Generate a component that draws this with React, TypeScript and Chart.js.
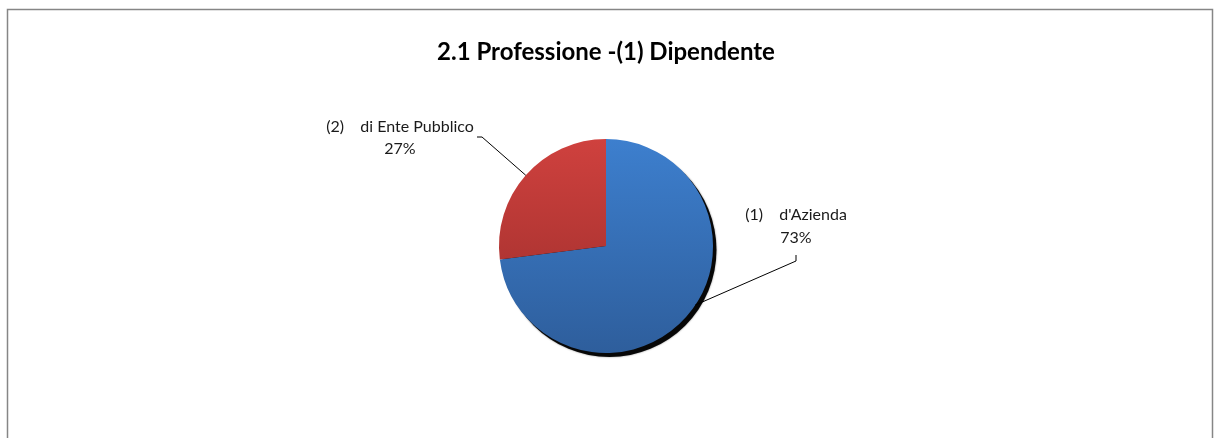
import React, { useEffect, useRef } from "react";
import { Chart, registerables } from "chart.js";

Chart.register(...registerables);

const titleText = "2.1 Professione -(1) Dipendente";
const categories = ["(1)    d'Azienda", "(2)    di Ente Pubblico"];
const values = [73, 27];
const gradTop = ["#3d7fce", "#cf413e"];
const gradBottom = ["#2e5e9c", "#992c2a"];

// label layout relative to pie centre (styles/positions, not data)
const labelLayout = [
  { dx: 190, base1: -26, base2: -3, anchorFrac: 0.47, elbow: [190, 9], elbowDown: [190, 15] },
  { dx: -206, base1: -114, base2: -92, anchorFrac: 0.5, elbow: [-129, -109], elbowDown: [-124, -109] },
];

const FONT = "Lato, 'Open Sans', sans-serif";

const decorPlugin = {
  id: "decor",
  beforeDraw(chart: any) {
    const ctx = chart.ctx;
    ctx.save();
    ctx.fillStyle = "#ffffff";
    ctx.fillRect(0, 0, chart.width, chart.height);
    ctx.strokeStyle = "#868686";
    ctx.lineWidth = 1.5;
    ctx.strokeRect(7.5, 9.5, 1205, 460);
    ctx.restore();
  },
  beforeDatasetsDraw(chart: any) {
    const meta = chart.getDatasetMeta(0);
    const arc = meta.data[0];
    if (!arc) return;
    const { x, y, outerRadius } = arc.getProps(["x", "y", "outerRadius"], true);
    const ctx = chart.ctx;
    ctx.save();
    ctx.fillStyle = "rgba(0,0,0,0.95)";
    ctx.shadowColor = "rgba(0,0,0,0.5)";
    ctx.shadowBlur = 2;
    ctx.beginPath();
    ctx.arc(x + 3.5, y + 4, outerRadius, 0, Math.PI * 2);
    ctx.fill();
    ctx.restore();
  },
  afterDatasetsDraw(chart: any) {
    const meta = chart.getDatasetMeta(0);
    const ctx = chart.ctx;
    const total = values.reduce((a, b) => a + b, 0);
    ctx.save();
    meta.data.forEach((arc: any, i: number) => {
      const { x, y, outerRadius, startAngle, endAngle } = arc.getProps(
        ["x", "y", "outerRadius", "startAngle", "endAngle"],
        true
      );
      const L = labelLayout[i];
      const a = startAngle + (endAngle - startAngle) * L.anchorFrac;
      const ax = x + Math.cos(a) * outerRadius;
      const ay = y + Math.sin(a) * outerRadius;
      ctx.strokeStyle = "#000000";
      ctx.lineWidth = 1;
      ctx.beginPath();
      ctx.moveTo(x + L.elbow[0], y + L.elbow[1]);
      ctx.lineTo(x + L.elbowDown[0], y + L.elbowDown[1]);
      ctx.lineTo(ax, ay);
      ctx.stroke();

      ctx.fillStyle = "#1a1a1a";
      ctx.font = `16px ${FONT}`;
      ctx.textAlign = "center";
      ctx.textBaseline = "alphabetic";
      ctx.fillText(categories[i], x + L.dx, y + L.base1);
      const pct = Math.round((values[i] / total) * 100) + "%";
      ctx.fillText(pct, x + L.dx, y + L.base2);
    });
    ctx.restore();
  },
};

export default function App() {
  const ref = useRef<HTMLCanvasElement>(null);
  useEffect(() => {
    document.body.style.margin = "0";
    const canvas = ref.current!;
    const chart = new Chart(canvas, {
      type: "pie",
      data: {
        labels: categories,
        datasets: [
          {
            data: values,
            borderWidth: 0,
            backgroundColor: (c: any) => {
              const ch = c.chart;
              const area = ch.chartArea;
              if (!area) return gradTop[c.dataIndex];
              const g = ch.ctx.createLinearGradient(0, area.top, 0, area.bottom);
              g.addColorStop(0, gradTop[c.dataIndex]);
              g.addColorStop(1, gradBottom[c.dataIndex]);
              return g;
            },
          },
        ],
      },
      options: {
        responsive: false,
        animation: false,
        layout: { padding: { left: 0, right: 3, top: 0, bottom: 85 } },
        plugins: {
          legend: { display: false },
          tooltip: { enabled: false },
          title: {
            display: true,
            text: titleText,
            color: "#000000",
            font: { family: FONT, size: 24, weight: "bold" },
            padding: { top: 37.6, bottom: 72.6 },
          },
        },
      },
      plugins: [decorPlugin],
    });
    return () => chart.destroy();
  }, []);
  return (
    <div style={{ position: "absolute", left: 0, top: 0, width: 1215, height: 438 }}>
      <canvas ref={ref} width={1215} height={438} />
    </div>
  );
}
